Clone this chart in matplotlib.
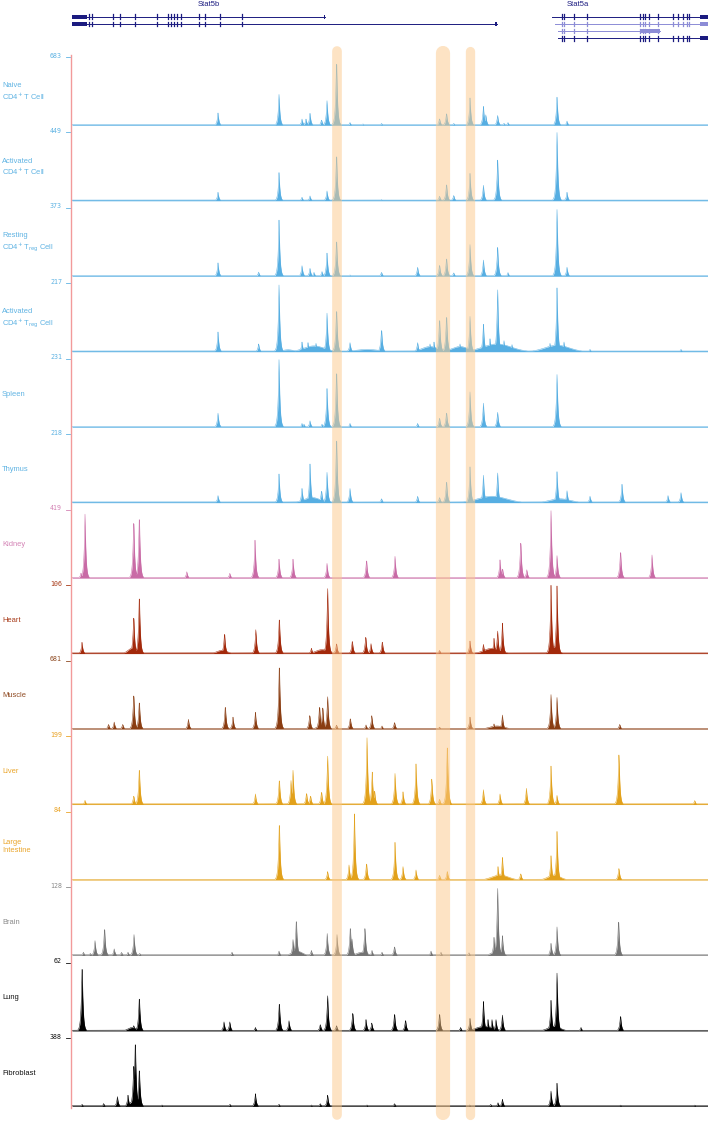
import numpy as np
import matplotlib
matplotlib.use("Agg")
import matplotlib.pyplot as plt
from matplotlib.lines import Line2D

# ---------------- data ----------------
# genomic coordinate in arbitrary units (0..636 across the browser window)
GENOME_START, GENOME_END = 0, 636

TRACK_NAMES = [
    "Naive\nCD4$^{+}$ T Cell",
    "Activated\nCD4$^{+}$ T Cell",
    "Resting\nCD4$^{+}$ T$_{\\rm reg}$ Cell",
    "Activated\nCD4$^{+}$ T$_{\\rm reg}$ Cell",
    "Spleen",
    "Thymus",
    "Kidney",
    "Heart",
    "Muscle",
    "Liver",
    "Large\nIntestine",
    "Brain",
    "Lung",
    "Fibroblast",
]
TRACK_MAX = [683, 449, 373, 217, 231, 218, 419, 106, 681, 199, 84, 128, 62, 388]

# sharp peaks: (position, signal)
NAIVE = [(146, 120), (207, 300), (230, 61), (234, 61), (238, 116), (249.5, 55), (255, 239),
         (264.5, 656), (278, 27), (291, 14), (309.5, 20), (367.5, 68), (374.5, 123), (381.7, 20),
         (398, 266), (411.4, 184), (413.8, 102), (425.6, 96), (432, 20), (436, 27), (485, 273), (495, 41)]
ACT = [(146, 54), (207, 180), (230, 22), (238, 31), (255, 63), (264.5, 310), (309.5, 8), (367.5, 31),
       (374.5, 112), (381.7, 36), (398, 175), (411.4, 99), (425.6, 260), (485, 436), (495, 54)]
REST_TREG = [(146, 71), (186.6, 22), (207, 298), (230, 56), (238, 41), (242, 20), (250, 25), (255, 123),
             (264.5, 201), (278, 7), (309.5, 22), (345.6, 48), (367.5, 63), (374.5, 101), (381.7, 19),
             (398, 168), (411.4, 86), (425.6, 153), (436, 19), (485, 354), (495, 48)]
ACT_TREG = [(146, 61), (186.6, 24), (207, 206), (230, 30), (236, 28), (244, 26), (255, 119), (264.5, 137),
            (278, 28), (309.5, 72), (345.6, 28), (358, 24), (362, 30), (367.5, 106), (374.5, 117),
            (388, 24), (398, 109), (411.4, 85), (418, 40), (425.6, 191), (432, 34), (440, 22),
            (478, 26), (485, 197), (492, 30), (518, 7), (609, 7)]
SPLEEN = [(146, 46), (207, 222), (230, 12), (232, 10), (238, 21), (250, 10), (255, 127), (264.5, 194),
          (278, 12), (345.6, 12), (367.5, 32), (374.5, 51), (398, 116), (411.4, 79), (425.6, 49), (485, 173)]
THYMUS = [(146, 22), (207, 89), (230, 44), (238, 120), (249.5, 39), (255, 94), (264.5, 211), (278, 44),
          (309.5, 13), (345.6, 20), (367.5, 17), (374.5, 70), (398, 111), (411.4, 85), (425.6, 92),
          (485, 96), (495, 37), (518, 20), (550, 57), (596, 22), (609, 31)]
KIDNEY = [(9, 30), (13, 381), (61.7, 360), (67.3, 385), (114.8, 38), (157.8, 29), (183, 226), (207, 113),
          (221, 113), (255, 88), (294.5, 113), (323, 130), (428, 109), (430.5, 59), (448.7, 230),
          (454.8, 50), (479, 402), (485, 134), (548.5, 168), (580, 138)]
HEART = [(10, 17), (61.7, 59), (67.3, 91), (152.5, 32), (183.8, 36), (207.3, 56), (239.4, 8), (255.6, 98),
         (264.5, 16), (280.3, 20), (293.7, 27), (299, 15), (310.3, 19), (367.5, 5), (398, 19), (411.4, 14),
         (422, 23), (425.6, 34), (430.4, 46), (479, 103), (485, 102)]
MUSCLE = [(36.5, 48), (42.2, 68), (50.7, 48), (61.7, 354), (67.3, 279), (116.4, 95), (153.3, 232),
          (161, 116), (183.4, 163), (207.3, 654), (237.7, 143), (247.5, 232), (250.7, 225), (255.6, 313),
          (264.5, 41), (278.3, 109), (294, 40), (299.8, 129), (310, 30), (322.5, 68), (367.5, 20),
          (398, 116), (422, 50), (430.4, 136), (479, 334), (485, 306), (547.7, 48)]
LIVER = [(13, 12), (61.7, 26), (67.3, 107), (183.4, 30), (207.3, 74), (219, 68), (221, 97), (234.5, 34),
         (238.5, 26), (249.5, 38), (255.6, 137), (295, 189), (300.2, 92), (302.6, 38), (323, 88), (331, 36),
         (344, 115), (359.8, 72), (367.5, 16), (375.3, 177), (411.4, 42), (428, 30), (454.4, 46),
         (479, 109), (485, 26), (546.9, 155), (622.7, 12)]
LARGE_INT = [(207.3, 72), (255.6, 10), (277, 18), (282.4, 79), (294.5, 21), (323, 45), (331, 16), (344, 12),
             (367.5, 6), (375.3, 11), (426, 16), (430.4, 27), (448.7, 8), (479, 29), (485, 58), (546.9, 15)]
BRAIN = [(11.4, 6), (18.3, 4), (23, 27), (32.5, 52), (42.2, 12), (49.5, 6), (56, 6), (62, 38), (67.7, 4),
         (160, 6), (207, 8), (221, 29), (224.3, 68), (239.4, 9), (255.2, 40), (265, 38), (278.3, 54),
         (280, 30), (292.9, 54), (300, 9), (310, 6), (322.5, 17), (359, 8), (369, 6), (397, 5), (422, 33),
         (425.6, 122), (430.4, 36), (479, 22), (485, 52), (546.5, 67)]
LUNG = [(10.1, 60), (61.7, 5), (67.3, 31), (152, 8), (157.8, 8), (183.4, 3), (207.3, 26), (217, 9),
        (248.3, 6), (255.6, 31), (264.5, 5), (280.7, 17), (294, 10), (299.8, 7), (322.5, 16), (333.5, 10),
        (367.5, 16), (388.6, 3), (398, 11), (411.4, 26), (416, 10), (420, 10), (424, 10), (430.4, 14),
        (479, 27), (485, 51), (509, 3), (548.5, 14)]
FIBRO = [(10.1, 12), (31.6, 16), (45.4, 54), (56, 62), (61.7, 244), (63.3, 376), (67.3, 217), (90, 8),
         (158, 12), (183.4, 70), (207, 12), (239.4, 8), (248.3, 16), (255.6, 62), (295, 8), (322.5, 16),
         (397.6, 8), (418.7, 12), (426, 20), (430.4, 39), (479, 85), (485, 128), (548.5, 8), (622.7, 8)]

# broad enrichment: (centre, signal, half-width)
ACT_TREG_BROAD = [(216, 6, 6), (242, 18, 10), (295, 7, 12), (358, 16, 8), (388, 16, 8),
                  (425, 24, 14), (485, 20, 12)]
THYMUS_BROAD = [(240, 16, 8), (420, 20, 14), (488, 12, 10)]
HEART_BROAD = [(60, 8, 4), (150, 5, 5), (250, 6, 6), (420, 8, 8), (482, 10, 4)]
MUSCLE_BROAD = [(250, 40, 4), (425, 30, 7)]
LI_BROAD = [(428, 6, 8), (482, 6, 6)]
BRAIN_BROAD = [(225, 8, 5), (290, 6, 5), (425, 8, 5)]
LUNG_BROAD = [(60, 3, 4), (412, 4, 8), (482, 4, 6)]
FIBRO_BROAD = [(62, 30, 4)]

TRACK_PEAKS = [NAIVE, ACT, REST_TREG, ACT_TREG, SPLEEN, THYMUS, KIDNEY, HEART, MUSCLE, LIVER,
               LARGE_INT, BRAIN, LUNG, FIBRO]
TRACK_BROAD = [[], [], [], ACT_TREG_BROAD, [], THYMUS_BROAD, [], HEART_BROAD, MUSCLE_BROAD, [],
               LI_BROAD, BRAIN_BROAD, LUNG_BROAD, FIBRO_BROAD]

# highlighted regions: (centre, width)
HIGHLIGHTS = [(264.5, 9.7), (371.4, 14.2), (398, 9.3)]

# gene models
STAT5B_EXONS = [17, 19.6, 40.9, 47.6, 62.5, 85.1, 95.9, 98.6, 101.8, 105, 108.6, 126.6, 133.4, 147.9, 170.4]
STAT5B_TX = [(0, 253), (0, 424.6)]
STAT5A_EXONS = [490.3, 492.3, 502, 515.3, 568, 570.7, 573, 577, 585.7, 600.7, 606.3, 610.7, 614.7, 617.3]
STAT5A_TX = [(479.7, 636), (483, 636), (486, 588), (486, 636)]

# ---------------- style ----------------
W, H = 708, 1121
BLUE = "#56aee2"
FILL_COLORS = [BLUE] * 6 + ["#c96ba6", "#a3290b", "#8a3d12", "#e2a11b", "#e2a11b", "#737373", "#000000", "#000000"]
LABEL_COLORS = ["#5fb3e3"] * 6 + ["#d484b6", "#a83a18", "#8f4a22", "#eaa52a", "#eaa52a", "#8a8a8a", "#111111", "#111111"]
NAVY = "#1b1b80"
LIGHT_NAVY = "#8c8cd6"

plt.rcParams["font.family"] = ["Liberation Sans", "DejaVu Sans"]
fig = plt.figure(figsize=(W / 100, H / 100), dpi=100)


def fx(x):
    return x / W


def fy(y):
    return 1 - y / H


X0, X1 = 72, 708
TOP0, PITCH, TRACK_H = 55.0, 75.47, 70.3
xs = np.arange(GENOME_START, GENOME_END + 0.1, 0.2)

for i, (name, ymax) in enumerate(zip(TRACK_NAMES, TRACK_MAX)):
    top = TOP0 + PITCH * i
    bot = top + TRACK_H
    ax = fig.add_axes([fx(X0), fy(bot), fx(X1 - X0), TRACK_H / H])
    ax.set_xlim(GENOME_START, GENOME_END)
    ax.set_ylim(0, ymax)
    ax.axis("off")
    sig = np.full_like(xs, ymax * 0.01)
    for p, v in TRACK_PEAKS[i]:
        sig = np.maximum(sig, v * np.exp(-np.abs(xs - p) / 1.0))
    for c, v, s in TRACK_BROAD[i]:
        sig = np.maximum(sig, v * np.exp(-0.5 * ((xs - c) / s) ** 2))
    sig = np.minimum(sig, ymax)
    col = FILL_COLORS[i]
    ax.fill_between(xs, 0, sig, color=col, lw=0)
    ax.plot(xs, sig, color=col, lw=0.35)
    ax.axhline(ymax * 0.006, color=col, lw=0.5, alpha=0.8)

    # scale number + tick
    fig.text(fx(62), fy(top + 0.5), str(ymax), ha="right", va="center", fontsize=4.8,
             family="DejaVu Sans Mono", color=LABEL_COLORS[i])
    fig.add_artist(Line2D([fx(66), fx(70)], [fy(top + 2), fy(top + 2)], color=LABEL_COLORS[i], lw=0.6))
    # track label
    fig.text(fx(2), fy(top + TRACK_H / 2 + 2), name, ha="left", va="center", fontsize=5.4,
             color=LABEL_COLORS[i], linespacing=1.25)

# left axis line
fig.add_artist(Line2D([fx(71), fx(71)], [fy(55), fy(1108)], color="#f29a9a", lw=1.0))

# gene annotation axes
gax = fig.add_axes([fx(X0), fy(45), fx(X1 - X0), 45 / H])
gax.set_xlim(GENOME_START, GENOME_END)
gax.set_ylim(45, 0)
gax.axis("off")


def draw_tx(ax, x0, x1, y, exons, color, blocks):
    ax.plot([x0, x1], [y, y], color=color, lw=0.7)
    for e in exons:
        if x0 <= e <= x1:
            ax.plot([e, e], [y - 2.3, y + 2.3], color=color, lw=0.9)
    for b0, b1 in blocks:
        ax.fill_between([b0, b1], y - 2, y + 2, color=color, lw=0)


tx_ys_b = [16.7, 24]
for (a, b), y in zip(STAT5B_TX, tx_ys_b):
    draw_tx(gax, a, b, y, STAT5B_EXONS, NAVY, [(0, 14.7), (b - 1.5, b)])
gax.text(137, 4, "Stat5b", ha="center", va="center", fontsize=5.5, color=NAVY)

tx_ys_a = [16.7, 24, 31, 38.3]
tx_cols_a = [NAVY, LIGHT_NAVY, LIGHT_NAVY, NAVY]
for k, ((a, b), y, c) in enumerate(zip(STAT5A_TX, tx_ys_a, tx_cols_a)):
    blocks = [(568, 588)] if k == 2 else [(628, 636)]
    draw_tx(gax, a, b, y, STAT5A_EXONS, c, blocks)
gax.text(506, 4, "Stat5a", ha="center", va="center", fontsize=5.5, color=NAVY)

# highlight overlay
hax = fig.add_axes([fx(X0), 0, fx(X1 - X0), 1])
hax.set_xlim(GENOME_START, GENOME_END)
hax.set_ylim(H, 0)
hax.axis("off")
hax.patch.set_alpha(0)
px_per_unit = (X1 - X0) / (GENOME_END - GENOME_START)
for c, w in HIGHLIGHTS:
    wpx = w * px_per_unit
    hax.plot([c, c], [46 + wpx / 2, 1120 - wpx / 2], color="#fcc88a", alpha=0.5,
             lw=wpx * 72 / 100, solid_capstyle="round")

fig.savefig("out.png", dpi=100)
